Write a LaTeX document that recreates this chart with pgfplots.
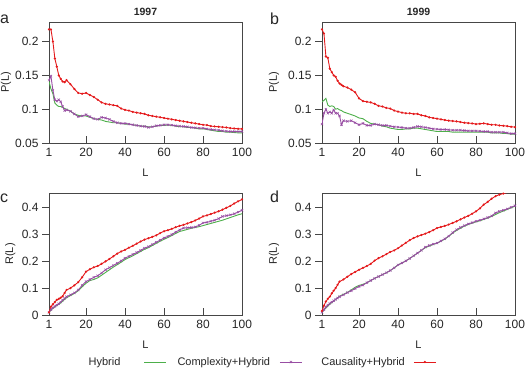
\documentclass[border=0pt]{standalone}
\usepackage{pgfplots}
\pgfplotsset{compat=1.18}
\usepackage{pgfplotstable}
\usepackage{fontspec}
\setmainfont{Liberation Sans}
\definecolor{cgreen}{RGB}{77,175,74}
\definecolor{cpurple}{RGB}{152,78,163}
\definecolor{cred}{RGB}{228,26,28}
\definecolor{cframe}{RGB}{70,70,70}

\pgfplotstableread{
L g p r
1 0.141 0.143 0.218
2 0.130 0.149 0.218
3 0.123 0.128 0.200
4 0.109 0.114 0.175
5 0.106 0.112 0.163
6 0.104 0.114 0.150
7 0.104 0.111 0.145
8 0.103 0.104 0.141
9 0.101 0.098 0.140
10 0.100 0.099 0.143
12 0.097 0.097 0.137
14 0.093 0.093 0.130
16 0.091 0.089 0.124
18 0.090 0.090 0.123
20 0.090 0.092 0.124
22 0.088 0.089 0.121
24 0.086 0.086 0.118
26 0.085 0.085 0.114
28 0.084 0.088 0.110
30 0.082 0.087 0.108
32 0.081 0.085 0.107
34 0.080 0.082 0.106
36 0.080 0.080 0.105
38 0.079 0.079 0.101
40 0.078 0.079 0.099
42 0.078 0.078 0.098
44 0.077 0.077 0.096
46 0.076 0.076 0.095
48 0.075 0.075 0.094
50 0.075 0.0745 0.093
52 0.074 0.073 0.091
54 0.074 0.074 0.090
56 0.075 0.0755 0.089
58 0.076 0.076 0.088
60 0.076 0.077 0.087
62 0.0765 0.077 0.086
64 0.076 0.0765 0.085
66 0.075 0.0755 0.084
68 0.074 0.075 0.083
70 0.074 0.0745 0.082
72 0.073 0.074 0.081
74 0.073 0.073 0.080
76 0.072 0.0725 0.079
78 0.071 0.072 0.078
80 0.071 0.072 0.077
82 0.070 0.071 0.0765
84 0.069 0.070 0.075
86 0.068 0.0695 0.0745
88 0.067 0.069 0.074
90 0.067 0.068 0.0735
92 0.066 0.0675 0.073
94 0.066 0.067 0.072
96 0.0655 0.067 0.0715
98 0.065 0.067 0.071
100 0.065 0.067 0.071
}\tabA

\pgfplotstableread{
L g p r
1 0.111 0.078 0.218
2 0.113 0.094 0.212
3 0.116 0.100 0.178
4 0.106 0.094 0.176
5 0.104 0.096 0.160
6 0.105 0.094 0.155
7 0.104 0.099 0.150
8 0.100 0.094 0.148
9 0.101 0.094 0.142
10 0.099 0.090 0.138
11 0.098 0.077 0.136
12 0.096 0.083 0.134
14 0.094 0.082 0.132
16 0.092 0.083 0.129
18 0.090 0.080 0.125
20 0.087 0.077 0.116
22 0.086 0.079 0.112
24 0.082 0.076 0.111
26 0.079 0.076 0.110
28 0.078 0.078 0.108
30 0.077 0.077 0.105
32 0.075 0.076 0.104
34 0.074 0.076 0.102
36 0.072 0.075 0.101
38 0.071 0.074 0.098
40 0.070 0.0735 0.0965
42 0.070 0.073 0.095
44 0.071 0.072 0.094
46 0.071 0.072 0.094
48 0.072 0.073 0.093
50 0.072 0.0745 0.093
52 0.071 0.074 0.091
54 0.070 0.073 0.090
56 0.069 0.072 0.088
58 0.068 0.071 0.087
60 0.067 0.0705 0.086
62 0.067 0.070 0.085
64 0.067 0.070 0.084
66 0.067 0.0695 0.083
68 0.066 0.069 0.0825
70 0.066 0.069 0.082
72 0.066 0.069 0.081
74 0.066 0.0685 0.080
76 0.066 0.068 0.0795
78 0.066 0.068 0.079
80 0.066 0.068 0.078
82 0.066 0.0675 0.0785
84 0.066 0.067 0.079
86 0.066 0.067 0.078
88 0.065 0.066 0.077
90 0.065 0.066 0.077
92 0.065 0.066 0.076
94 0.064 0.066 0.0755
96 0.064 0.065 0.075
98 0.063 0.064 0.074
100 0.063 0.064 0.0735
}\tabB

\pgfplotstableread{
L g p r
1 0.010 0.010 0.010
2 0.018 0.020 0.031
3 0.025 0.027 0.040
4 0.030 0.032 0.048
5 0.035 0.037 0.056
6 0.040 0.042 0.060
7 0.045 0.048 0.064
8 0.052 0.055 0.070
9 0.058 0.062 0.082
10 0.064 0.068 0.093
12 0.072 0.075 0.100
14 0.080 0.082 0.110
16 0.090 0.093 0.122
18 0.105 0.110 0.140
20 0.118 0.124 0.161
22 0.128 0.132 0.170
24 0.132 0.140 0.177
26 0.138 0.146 0.182
28 0.148 0.156 0.190
30 0.158 0.168 0.199
32 0.168 0.176 0.208
34 0.178 0.184 0.218
36 0.187 0.192 0.228
38 0.196 0.201 0.236
40 0.206 0.211 0.242
42 0.213 0.218 0.250
44 0.220 0.225 0.257
46 0.228 0.232 0.265
48 0.236 0.240 0.273
50 0.244 0.248 0.280
52 0.250 0.254 0.285
54 0.258 0.262 0.290
56 0.266 0.270 0.296
58 0.274 0.278 0.304
60 0.281 0.286 0.311
62 0.288 0.292 0.315
64 0.295 0.299 0.320
66 0.303 0.308 0.326
68 0.310 0.316 0.331
70 0.314 0.323 0.335
72 0.318 0.324 0.340
74 0.322 0.325 0.345
76 0.325 0.327 0.351
78 0.328 0.333 0.358
80 0.332 0.342 0.366
82 0.336 0.344 0.370
84 0.340 0.348 0.375
86 0.344 0.352 0.380
88 0.348 0.358 0.385
90 0.352 0.366 0.391
92 0.357 0.369 0.398
94 0.362 0.372 0.405
96 0.367 0.376 0.414
98 0.372 0.382 0.422
100 0.376 0.389 0.429
}\tabC

\pgfplotstableread{
L g p r
1 0.010 0.010 0.015
2 0.018 0.020 0.035
3 0.026 0.030 0.050
4 0.033 0.037 0.060
5 0.040 0.043 0.068
6 0.046 0.048 0.080
7 0.052 0.053 0.090
8 0.058 0.058 0.100
9 0.064 0.063 0.112
10 0.070 0.068 0.124
12 0.077 0.075 0.132
14 0.084 0.083 0.142
16 0.093 0.090 0.152
18 0.103 0.098 0.160
20 0.110 0.106 0.168
22 0.114 0.111 0.175
24 0.120 0.120 0.182
26 0.128 0.128 0.190
28 0.136 0.136 0.202
30 0.143 0.143 0.211
32 0.150 0.150 0.218
34 0.157 0.157 0.226
36 0.165 0.165 0.234
38 0.175 0.175 0.240
40 0.186 0.186 0.248
42 0.193 0.193 0.258
44 0.201 0.201 0.268
46 0.210 0.210 0.278
48 0.220 0.220 0.286
50 0.230 0.230 0.292
52 0.240 0.240 0.297
54 0.250 0.252 0.302
56 0.256 0.258 0.308
58 0.262 0.263 0.315
60 0.267 0.267 0.323
62 0.274 0.275 0.327
64 0.282 0.283 0.331
66 0.292 0.293 0.336
68 0.304 0.306 0.342
70 0.314 0.317 0.348
72 0.322 0.325 0.355
74 0.330 0.332 0.362
76 0.336 0.338 0.368
78 0.341 0.343 0.376
80 0.346 0.348 0.385
82 0.350 0.352 0.396
84 0.355 0.357 0.410
86 0.360 0.362 0.420
88 0.366 0.368 0.432
90 0.373 0.379 0.441
92 0.380 0.385 0.447
94 0.386 0.389 0.451
96 0.392 0.394 0.455
98 0.398 0.400 0.458
100 0.404 0.406 0.460
}\tabD

\newcommand{\fs}{\fontsize{11}{13}\selectfont}
\newcommand{\fst}{\fontsize{12}{14}\selectfont}

\pgfplotsset{
  panel/.style={
    scale only axis, width=193pt, height=121pt,
    anchor=north west,
    xmin=1, xmax=100,
    xtick={1,20,40,60,80,100},
    tick align=inside, tick pos=left,
    major tick length=7pt,
    axis line style={draw=cframe, line width=0.6pt},
    tick style={draw=cframe, line width=0.6pt},
    ytick style={xshift=-7pt},
    ticklabel style={font=\fst, text=black!85},
    xticklabel style={yshift=-2pt},
    yticklabel style={xshift=-7pt},
    label style={font=\fs, text=black!85},
    xlabel style={yshift=-5pt},
    title style={font=\fontsize{10.5}{12}\selectfont\bfseries, text=black!85, yshift=-3pt},
    /pgf/number format/assume math mode=true,
    scaled y ticks=false,
    yticklabel style={/pgf/number format/fixed, /pgf/number format/precision=2},
    xlabel={L},
    legend image code/.code={\draw[mark repeat=2,mark phase=2,##1] plot coordinates {(0pt,0pt) (11pt,0pt) (22pt,0pt)};},
  },
  hyb/.style={color=cgreen, line width=0.9pt, no markers},
  cpx/.style={color=cpurple, line width=0.9pt, mark=x, mark size=1.6pt, mark options={line width=0.5pt}},
  cau/.style={color=cred, line width=0.9pt, mark=*, mark size=0.6pt},
}

\begin{document}
\begin{tikzpicture}
\useasboundingbox (0,0) rectangle (526pt,-368pt);

\begin{axis}[panel, at={(49pt,-22pt)}, ymin=0.05, ymax=0.229,
  ytick={0.05,0.1,0.15,0.2}, ylabel={P(L)}, title={1997},
  ylabel style={at={(axis description cs:-0.223,0.5)}, anchor=center}]
\addplot[hyb] table[x=L,y=g]{\tabA};
\addplot[cpx] table[x=L,y=p]{\tabA};
\addplot[cau] table[x=L,y=r]{\tabA};
\end{axis}

\begin{axis}[panel, at={(322pt,-22pt)}, ymin=0.05, ymax=0.229,
  ytick={0.05,0.1,0.15,0.2}, ylabel={P(L)}, title={1999},
  ylabel style={at={(axis description cs:-0.249,0.5)}, anchor=center}]
\addplot[hyb] table[x=L,y=g]{\tabB};
\addplot[cpx] table[x=L,y=p]{\tabB};
\addplot[cau] table[x=L,y=r]{\tabB};
\end{axis}

\begin{axis}[panel, at={(49pt,-193pt)}, height=122pt, ymin=0, ymax=0.453,
  ytick={0,0.1,0.2,0.3,0.4}, ylabel={R(L)},
  ylabel style={at={(axis description cs:-0.2,0.5)}, anchor=center},
  legend columns=3, legend plot pos=right,
  legend style={at={(1.106,-0.385)}, anchor=center, draw=none, fill=none,
    font=\fs, text=black!85, nodes={inner sep=0pt},
    /tikz/every odd column/.style={column sep=0pt},
    /tikz/every even column/.style={column sep=0pt}}]
\addplot[hyb] table[x=L,y=g]{\tabC};
\addlegendentry{\makebox[55pt][l]{Hybrid}}
\addplot[cpx] table[x=L,y=p]{\tabC};
\addlegendentry{\makebox[113pt][l]{\hspace{11pt}Complexity+Hybrid}}
\addplot[cau] table[x=L,y=r]{\tabC};
\addlegendentry{\makebox[111pt][l]{\hspace{19pt}Causality+Hybrid}}
\end{axis}

\begin{axis}[panel, at={(322pt,-193pt)}, height=122pt, ymin=0, ymax=0.453,
  ytick={0,0.1,0.2,0.3,0.4}, ylabel={R(L)},
  ylabel style={at={(axis description cs:-0.249,0.5)}, anchor=center}]
\addplot[hyb] table[x=L,y=g]{\tabD};
\addplot[cpx] table[x=L,y=p]{\tabD};
\addplot[cau] table[x=L,y=r]{\tabD};
\end{axis}

\node[anchor=base west, inner sep=0pt, font=\fontsize{16}{18}\selectfont, text=black!85] at (0pt,-23pt) {a};
\node[anchor=base west, inner sep=0pt, font=\fontsize{16}{18}\selectfont, text=black!85] at (270pt,-24pt) {b};
\node[anchor=base west, inner sep=0pt, font=\fontsize{16}{18}\selectfont, text=black!85] at (0pt,-202pt) {c};
\node[anchor=base west, inner sep=0pt, font=\fontsize{16}{18}\selectfont, text=black!85] at (270pt,-202pt) {d};
\end{tikzpicture}
\end{document}
